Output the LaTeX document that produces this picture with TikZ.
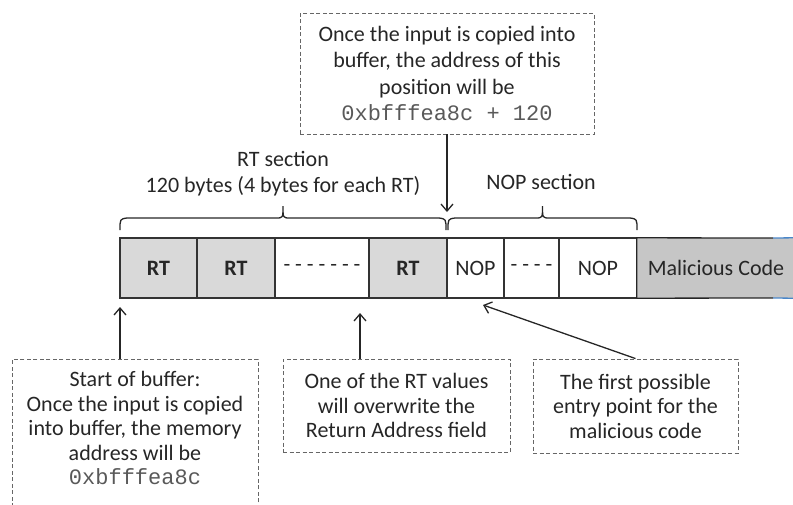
\documentclass[tikz,border=0pt]{standalone}
\usepackage{fontspec}
\setmainfont{Carlito}
\setmonofont{Liberation Mono}
\usetikzlibrary{arrows.meta}
\definecolor{inkgrey}{HTML}{262626}
\definecolor{codegrey}{HTML}{595959}
\definecolor{rtfill}{HTML}{D9D9D9}
\definecolor{malfill}{HTML}{C6C6C6}
\definecolor{edgeblue}{HTML}{4A86C8}
\tikzset{
cellBox/.style={draw=black!80, line width=1.3pt, minimum height=60pt, inner sep=0pt},
rtBox/.style={cellBox, fill=rtfill, font=\fontsize{22}{24.5}\selectfont\bfseries},
noteBox/.style={draw=black!60, dash pattern=on 4pt off 2.5pt, line width=0.9pt},
noteText/.style={align=center, inner sep=0pt},
pointer/.style={draw=black!85, line width=1.3pt, -{Straight Barb[length=7pt,width=12pt]}},
braceLine/.style={draw=black!85, line width=1.3pt},
}
\newcommand{\memBrace}[2]{%
  \draw[braceLine] (#1,230) .. controls (#1,219) .. ({#1+7},218)
    -- ({(#1+#2)/2-7},218) .. controls ({(#1+#2)/2},218) .. ({(#1+#2)/2},206)
    .. controls ({(#1+#2)/2},218) .. ({(#1+#2)/2+7},218)
    -- ({#2-7},218) .. controls (#2,219) .. (#2,230);}

\begin{document}
\begin{tikzpicture}[x=1pt, y=-1pt, font=\fontsize{22}{24.5}\selectfont,
    every node/.append style={text=inkgrey}]
    \useasboundingbox (0,0) rectangle (793,504);

    \node[rtBox, minimum width=77pt] (rt_1) at (158.5,268) {RT};
    \node[rtBox, minimum width=78pt] (rt_2) at (236,268) {RT};
    \node[cellBox, minimum width=94pt] (rt_gap) at (322,268) {- - - - - - -};
    \node[rtBox, minimum width=78pt] (rt_3) at (408,268) {RT};
    \node[cellBox, minimum width=57pt] (nop_1) at (475.5,268) {NOP};
    \node[cellBox, minimum width=55pt] (nop_gap) at (531.5,268) {- - - -};
    \node[cellBox, minimum width=78pt] (nop_2) at (598,268) {NOP};
    \node[fill=malfill, minimum width=156pt, minimum height=60pt, inner sep=0pt] (mal) at (715,268) {};
    \node (maltext) at (716,268) {Malicious Code};
    \draw[braceLine] (mal.south west) -- (mal.north west) -- (773,238);
    \draw[braceLine] (mal.south west) -- (773,298);
    \draw[edgeblue, line width=1.3pt] (773,238) -- (mal.north east) (773,298) -- (mal.south east);

    \memBrace{120}{446}
    \memBrace{448}{637}
    \node[noteText, font=\fontsize{22}{26}\selectfont] (rtsec) at (283,174) {RT section\\120 bytes (4 bytes for each RT)};
    \node (nopsec) at (541,182) {NOP section};

    \node[noteBox, noteText, minimum width=294pt, minimum height=121pt, font=\fontsize{22}{26.5}\selectfont] (inputnote) at (447,73.5)
        {Once the input is copied into\\buffer, the address of this\\position will be\\{\ttfamily\color{codegrey}0xbfffea8c + 120}};
    \node[noteBox, minimum width=246pt, minimum height=170pt, anchor=north west] (startbox) at (12,359) {};
    \node[noteText] (starttext) at (135,428)
        {Start of buffer:\\Once the input is copied\\into buffer, the memory\\address will be\\{\ttfamily\color{codegrey}0xbfffea8c}};
    \node[noteBox, noteText, minimum width=227pt, minimum height=93pt] (rtnote) at (396.5,405.5)
        {One of the RT values\\will overwrite the\\Return Address field};
    \node[noteBox, noteText, minimum width=205pt, minimum height=94pt] (entrynote) at (635.5,406)
        {The first possible\\entry point for the\\malicious code};

    \coordinate (nop_start) at (447,212);
    \coordinate (buf_start) at (120,307);
    \coordinate (rt_hit) at (360,313);
    \coordinate (nop_entry) at (483,305);
    \draw[pointer] (inputnote.south) -- (nop_start);
    \draw[pointer] (startbox.north -| buf_start) -- (buf_start);
    \draw[pointer] (rtnote.north -| rt_hit) -- (rt_hit);
    \draw[pointer] (entrynote.north) -- (nop_entry);
\end{tikzpicture}
\end{document}
